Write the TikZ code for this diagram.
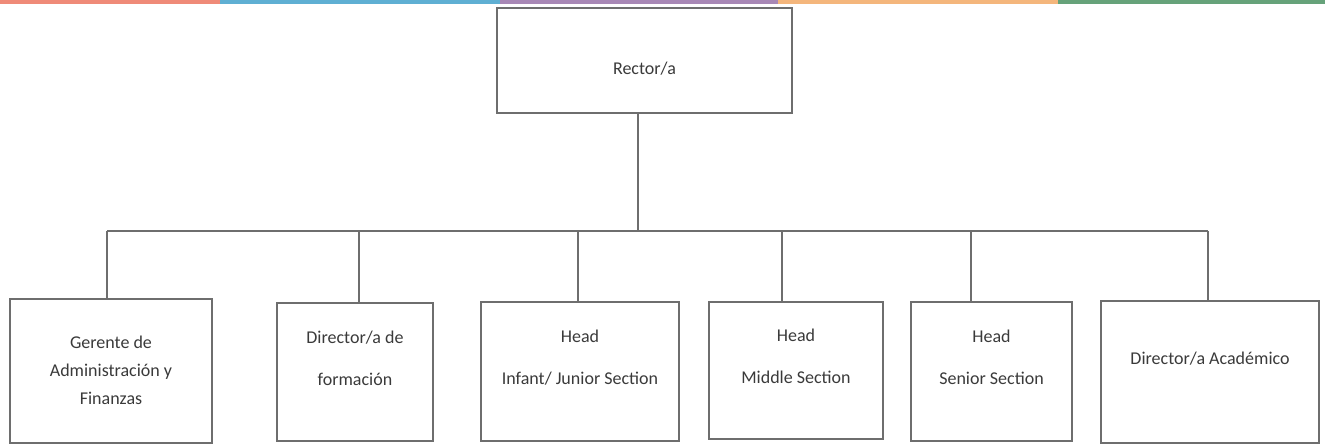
\documentclass[tikz,border=0pt]{standalone}
\usepackage{fontspec}
\setmainfont{Carlito}
\definecolor{linegray}{HTML}{6E6E6E}
\definecolor{textgray}{HTML}{3A3A3A}
\definecolor{stripred}{HTML}{EF8A78}
\definecolor{stripblue}{HTML}{5FAFD3}
\definecolor{strippurple}{HTML}{A888B6}
\definecolor{striporange}{HTML}{F4B67C}
\definecolor{stripgreen}{HTML}{66A27A}
\begin{document}
\begin{tikzpicture}[x=1pt,y=-1pt,
  box/.style={rectangle,draw=linegray,line width=1.3pt,align=center,text=textgray,
    inner sep=0pt,font=\fontsize{18}{28}\selectfont},
  link/.style={draw=linegray,line width=1.3pt}]
\useasboundingbox (0,0) rectangle (1325,445);
% colour strip on top
\foreach \xa/\xb/\col in {0/220/stripred,220/500/stripblue,500/778/strippurple,778/1058/striporange,1058/1325/stripgreen}
  \fill[\col] (\xa,0) rectangle (\xb,3.5);
\node [box,minimum width=295,minimum height=105,text height=27pt,text depth=0pt] (rector) at (644.5,60.5) {Rector/a};
\node [box,minimum width=202,minimum height=144,text height=66pt,text depth=0pt] (gerente) at (111,371) {Gerente de\\Administración y\\Finanzas};
\node [box,minimum width=156,minimum height=138] (formacion) at (355,372) {Director/a de\\[14pt]formación\\\mbox{}};
\node [box,minimum width=198,minimum height=139] (infant) at (580,371.5) {Head\\[14pt]Infant/ Junior Section\\\mbox{}};
\node [box,minimum width=174,minimum height=137] (middle) at (796,370.5) {Head\\[14pt]Middle Section\\\mbox{}};
\node [box,minimum width=161,minimum height=139] (senior) at (991.5,371.5) {Head\\[14pt]Senior Section\\\mbox{}};
\node [box,minimum width=218,minimum height=142] (academico) at (1210,372) {Director/a Académico\\\mbox{}};
% bus line and its taps
\coordinate (top) at (638,231);
\coordinate (tapgerente) at (107,231);
\coordinate (tapformacion) at (359,231);
\coordinate (tapinfant) at (578,231);
\coordinate (tapmiddle) at (782,231);
\coordinate (tapsenior) at (971,231);
\coordinate (tapacademico) at (1208,231);
\draw [link] (rector.south -| top) -- (top);
\draw [link] (tapgerente) -- (tapacademico);
\draw [link] (tapgerente) -- (tapgerente |- gerente.north);
\draw [link] (tapformacion) -- (tapformacion |- formacion.north);
\draw [link] (tapinfant) -- (tapinfant |- infant.north);
\draw [link] (tapmiddle) -- (tapmiddle |- middle.north);
\draw [link] (tapsenior) -- (tapsenior |- senior.north);
\draw [link] (tapacademico) -- (tapacademico |- academico.north);
\end{tikzpicture}
\end{document}
